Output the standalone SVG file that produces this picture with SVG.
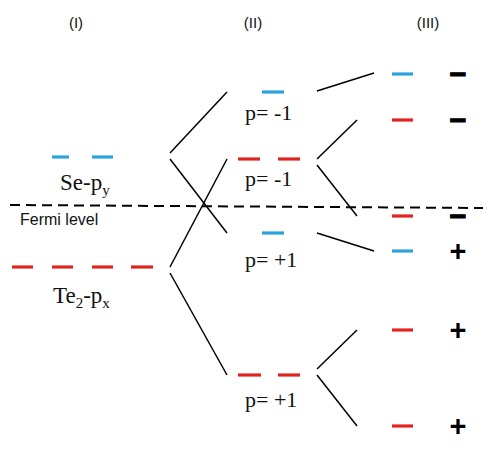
<svg xmlns="http://www.w3.org/2000/svg" width="498" height="450" viewBox="0 0 498 450">
<style>
.hdr{font-family:"Liberation Sans",Arial,sans-serif;font-size:15px;fill:#111;text-anchor:middle}
.tm{font-family:"Liberation Serif","Times New Roman",serif;fill:#111}
.big{font-size:23px}
.pl{font-size:22px}
.sub{font-size:15px}
.sign{font-family:"Liberation Sans",Arial,sans-serif;font-weight:bold;font-size:29px;fill:#000;text-anchor:middle}
.minus{stroke-width:1.2px;stroke:#000}
.blue{stroke:#2aa3dc;stroke-width:3.2}
.red{stroke:#e2231f;stroke-width:3.2}
.ln{stroke:#000;stroke-width:1.5;fill:none}
.fermi{stroke:#000;stroke-width:2;stroke-dasharray:10 6}
</style>
<rect width="498" height="450" fill="#fff"/>
<g id="headers">
<text class="hdr" x="76" y="28">(I)</text>
<text class="hdr" x="253" y="28">(II)</text>
<text class="hdr" x="428" y="28">(III)</text>
</g>
<g id="fermi">
<line class="fermi" x1="10" y1="205" x2="483" y2="208"/>
<text x="20" y="225" font-family="'Liberation Sans',Arial,sans-serif" font-size="16" fill="#111">Fermi level</text>
</g>
<g id="se-py">
<line class="blue" x1="52" y1="157" x2="69" y2="157"/>
<line class="blue" x1="92" y1="157" x2="113" y2="157"/>
<text class="tm big" x="60" y="190">Se-p<tspan class="sub" dy="5">y</tspan></text>
</g>
<g id="te2-px">
<line class="red" x1="12" y1="267" x2="33" y2="267"/>
<line class="red" x1="52" y1="267" x2="73" y2="267"/>
<line class="red" x1="92" y1="267" x2="113" y2="267"/>
<line class="red" x1="131" y1="267" x2="153" y2="267"/>
<text class="tm big" x="53" y="303">Te<tspan class="sub" dy="5">2</tspan><tspan dy="-5">-p</tspan><tspan class="sub" dy="5">x</tspan></text>
</g>
<g id="ii-blue-top">
<line class="blue" x1="262" y1="92" x2="284" y2="92"/>
<text class="tm pl" x="245" y="120">p= -1</text>
</g>
<g id="ii-red-top">
<line class="red" x1="238" y1="159" x2="260" y2="159"/>
<line class="red" x1="278" y1="159" x2="300" y2="159"/>
<text class="tm pl" x="245" y="186">p= -1</text>
</g>
<g id="ii-blue-bottom">
<line class="blue" x1="262" y1="233" x2="284" y2="233"/>
<text class="tm pl" x="245" y="267">p= +1</text>
</g>
<g id="ii-red-bottom">
<line class="red" x1="238" y1="375" x2="261" y2="375"/>
<line class="red" x1="278" y1="375" x2="300" y2="375"/>
<text class="tm pl" x="245" y="407">p= +1</text>
</g>
<g id="iii-1"><line class="blue" x1="392" y1="74" x2="413" y2="74"/><text class="sign minus" x="458" y="84">−</text></g>
<g id="iii-2"><line class="red" x1="392" y1="120" x2="413" y2="120"/><text class="sign minus" x="458" y="130">−</text></g>
<g id="iii-3"><line class="red" x1="392" y1="216" x2="413" y2="216"/><text class="sign minus" x="458" y="226">−</text></g>
<g id="iii-4"><line class="blue" x1="392" y1="251" x2="413" y2="251"/><text class="sign" x="458" y="261">+</text></g>
<g id="iii-5"><line class="red" x1="392" y1="330" x2="413" y2="330"/><text class="sign" x="458" y="340">+</text></g>
<g id="iii-6"><line class="red" x1="392" y1="426" x2="413" y2="426"/><text class="sign" x="458" y="436">+</text></g>
<g id="connectors">
<line class="ln" x1="170" y1="153" x2="227" y2="92"/>
<line class="ln" x1="170" y1="159" x2="227" y2="233"/>
<line class="ln" x1="170" y1="267" x2="227" y2="159"/>
<line class="ln" x1="170" y1="273" x2="227" y2="375"/>
<line class="ln" x1="317" y1="91" x2="374" y2="73"/>
<line class="ln" x1="317" y1="159" x2="357" y2="120"/>
<line class="ln" x1="317" y1="165" x2="357" y2="216"/>
<line class="ln" x1="317" y1="233" x2="374" y2="251"/>
<line class="ln" x1="317" y1="369" x2="357" y2="330"/>
<line class="ln" x1="317" y1="375" x2="357" y2="426"/>
</g>
</svg>
